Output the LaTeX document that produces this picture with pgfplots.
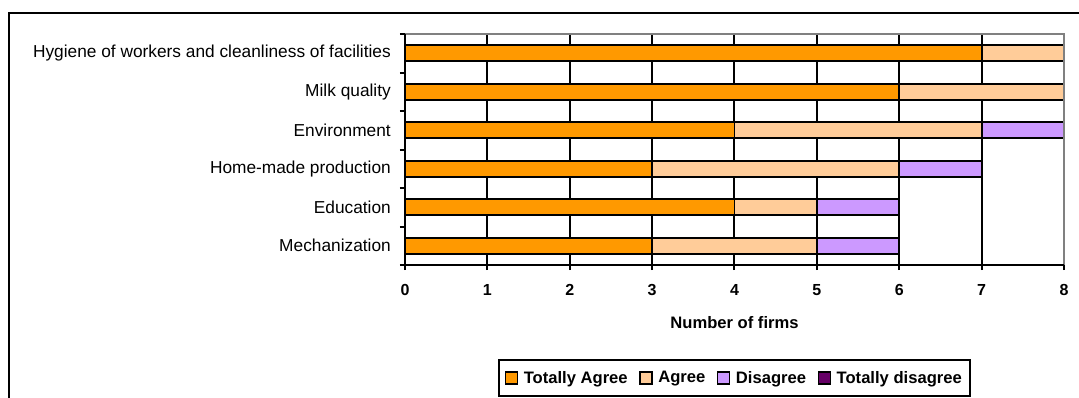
\documentclass[border=0pt]{standalone}
\usepackage{pgfplots}
\pgfplotsset{compat=1.18}
\usepackage{fontspec}
\setmainfont{Liberation Sans}
\definecolor{ta}{HTML}{FF9900}
\definecolor{ag}{HTML}{FFCC99}
\definecolor{di}{HTML}{CC99FF}
\definecolor{td}{HTML}{660066}
\pgfplotsset{
  legsq/.style={legend image code/.code={\draw[##1, line width=1.6bp] (0bp,-6bp) rectangle (12bp,6bp);}}
}
\begin{document}
\begin{tikzpicture}
\useasboundingbox (0bp,0bp) rectangle (1079bp,398bp);
\begin{scope}
\clip (0bp,0bp) rectangle (1079bp,398bp);
\draw[line width=2bp] (9bp,-5bp) -- (9bp,385bp) -- (1090bp,385bp);
\end{scope}
\begin{axis}[
  at={(405bp,133bp)}, anchor=south west, scale only axis,
  width=659bp, height=231bp,
  xbar stacked, bar width=16bp,
  xmin=0, xmax=8, ymin=-0.5, ymax=5.5,
  axis line style={draw=none},
  xtick={0,...,8}, xtick pos=bottom,
  ytick={-0.5,0.5,...,5.5}, yticklabels={}, ytick pos=left,
  extra y ticks={0,1,2,3,4,5},
  extra y tick labels={Mechanization,Education,Home-made production,Environment,Milk quality,Hygiene of workers and cleanliness of facilities},
  extra y tick style={grid=none, major tick length=0pt,
     yticklabel style={font=\fontsize{17.3bp}{20bp}\selectfont, inner sep=0pt, xshift=-14bp}},
  tick align=outside, major tick length=5bp,
  tick style={black, line width=2bp},
  xmajorgrids=true, ymajorgrids=false,
  major x grid style={black, line width=2bp},
  xticklabel style={font=\bfseries\fontsize{16bp}{18bp}\selectfont, yshift=-11bp},
  /pgf/number format/assume math mode=true,
  xlabel={Number of firms},
  xlabel style={font=\bfseries\fontsize{16.6bp}{19bp}\selectfont, at={(axis description cs:0.5,-0.251)}, anchor=center},
  legend columns=4,
  legend style={at={(0.5,-0.489)}, anchor=center, draw=black, line width=2bp,
     font=\bfseries\fontsize{16.6bp}{19bp}\selectfont,
     inner ysep=8.5bp, inner xsep=6bp,
     nodes={inner xsep=2.5bp, inner ysep=2.5bp},
     /tikz/every odd column/.append style={column sep=3bp},
     /tikz/every even column/.append style={column sep=9bp}},
  legend cell align=left,
]
\addplot[fill=ta, draw=black, line width=1.8bp, legsq] coordinates {(3,0) (4,1) (3,2) (4,3) (6,4) (7,5)};
\addplot[fill=ag, draw=black, line width=1.8bp, legsq] coordinates {(2,0) (1,1) (3,2) (3,3) (2,4) (1,5)};
\addplot[fill=di, draw=black, line width=1.8bp, legsq] coordinates {(1,0) (1,1) (1,2) (1,3) (0,4) (0,5)};
\addplot[fill=td, draw=black, line width=1.8bp, legsq] coordinates {(0,0) (0,1) (0,2) (0,3) (0,4) (0,5)};
\legend{Totally Agree, Agree, Disagree, Totally disagree\hspace{10bp}}
\end{axis}
\draw[gray, line width=2bp] (405bp,364bp) -- (1064bp,364bp) -- (1064bp,133bp);
\draw[black, line width=2bp] (405bp,364bp) -- (405bp,133bp) -- (1064bp,133bp);
\end{tikzpicture}
\end{document}
